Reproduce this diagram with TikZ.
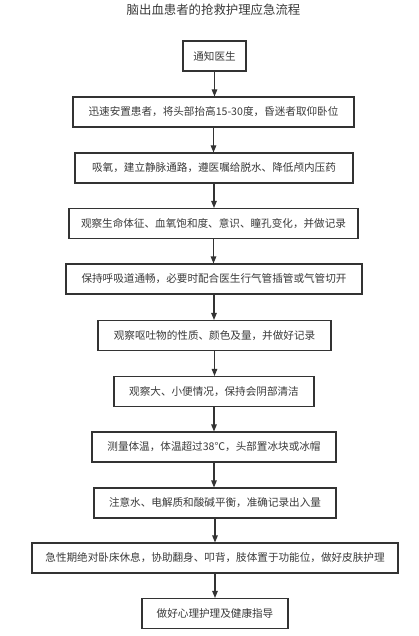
\documentclass[tikz,border=0pt]{standalone}
\usepackage{fontspec}
\setmainfont{Noto Sans CJK SC}
\usetikzlibrary{arrows.meta}
\definecolor{ink}{HTML}{333333}
\definecolor{txt}{HTML}{3A3A3A}
\begin{document}
\begin{tikzpicture}[x=1pt,y=-1pt,
  stepbox/.style={draw=ink,line width=1.1pt,fill=white,minimum height=30pt,inner sep=0pt,
    text=txt,font=\fontsize{10.6pt}{12pt}\selectfont},
  flow/.style={draw=ink,line width=1.1pt,-{Triangle[length=7pt,width=5.5pt]}}]
\useasboundingbox (0,0) rectangle (419,636);
\node[text=txt,font=\fontsize{12.4pt}{14pt}\selectfont] (title) at (213.5,10) {脑出血患者的抢救护理应急流程};
\node[stepbox,minimum width=63pt] (b1) at (214.5,56) {通知医生};
\node[stepbox,minimum width=281pt] (b2) at (213.5,112) {迅速安置患者，将头部抬高15-30度，昏迷者取仰卧位};
\node[stepbox,minimum width=278pt] (b3) at (214,168) {吸氧，建立静脉通路，遵医嘱给脱水、降低颅内压药};
\node[stepbox,minimum width=289pt] (b4) at (213.5,223.5) {观察生命体征、血氧饱和度、意识、瞳孔变化，并做记录};
\node[stepbox,minimum width=296pt] (b5) at (214,279) {保持呼吸道通畅，必要时配合医生行气管插管或气管切开};
\node[stepbox,minimum width=233pt] (b6) at (214.5,335.5) {观察呕吐物的性质、颜色及量，并做好记录};
\node[stepbox,minimum width=200pt] (b7) at (214,391.5) {观察大、小便情况，保持会阴部清洁};
\node[stepbox,minimum width=244pt] (b8) at (214,447) {测量体温，体温超过38℃，头部置冰块或冰帽};
\node[stepbox,minimum width=242pt] (b9) at (215,503) {注意水、电解质和酸碱平衡，准确记录出入量};
\node[stepbox,minimum width=366pt] (b10) at (215,558) {急性期绝对卧床休息，协助翻身、叩背，肢体置于功能位，做好皮肤护理};
\node[stepbox,minimum width=146pt] (b11) at (215,613.5) {做好心理护理及健康指导};
\foreach \a/\b in {b1/b2,b2/b3,b3/b4,b4/b5,b5/b6,b6/b7,b7/b8,b8/b9,b9/b10,b10/b11}
  \draw[flow] (\a.south) -- (\a.south |- \b.north);
\end{tikzpicture}
\end{document}
